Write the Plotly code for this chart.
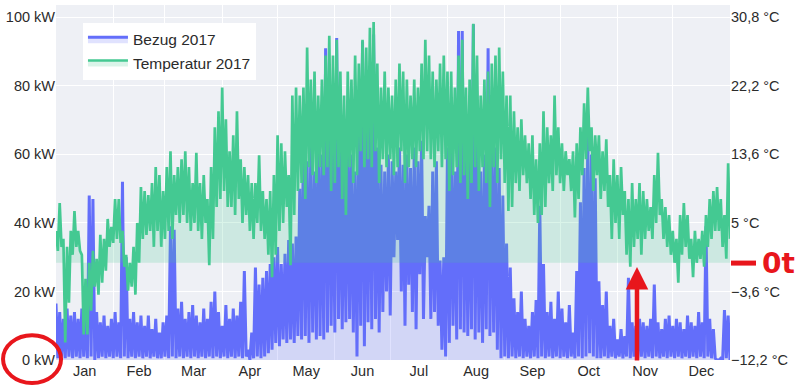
import numpy as np
import pandas as pd
import plotly.graph_objects as go

# ---- data (2-day blocks: daily high / low) ----
temp_hi = [4, 7.5, 3, 2, 4, 6.5, 4, 1, -2, 0,
           1.5, 0.5, 3.5, 3, 5.5, 4.5, 8, 8, 4, 1,
           0, 2, 5, 9.5, 9, 8.5, 10, 12, 11, 9,
           12, 14, 11, 12, 13, 14, 12, 10, 13.8, 10,
           11, 8, 12, 17, 19, 22, 18, 14, 16, 19,
           13, 12, 11, 10, 10, 13.5, 9, 8, 9, 11,
           16, 15, 14, 11, 21, 22, 21, 22, 27, 23,
           24, 21, 23, 26, 28.5, 26, 28, 24, 21, 24,
           23, 26, 25, 28, 27, 29.5, 30.2, 25, 22, 24,
           22, 21, 23, 25, 24, 23, 21, 23, 22, 25,
           28, 26, 24, 23, 25, 26, 24, 24, 22, 26,
           28, 22, 23, 30, 26, 21, 23, 24, 25, 26,
           27, 24, 21, 21, 19, 17, 18, 16, 15, 16,
           13, 15, 19, 17, 16, 21, 17, 15, 14, 13,
           14, 15, 17, 20, 22, 17, 16, 16, 14, 15.5,
           11, 13, 11, 12, 9, 8, 10, 8, 10, 9,
           8, 7, 11, 13.8, 8, 7, 6, 4, 3, 6,
           7.5, 6, 3, 4, 3, 4, 6, 8, 9, 9.5,
           8, 6, 12.5]
temp_lo = [1.5, 2, -10, -5, 1, 2, 1.5, -9, -9, -6,
           -3, -4, -2.5, -1, 2, 2.5, 3, 2.5, -0.5, -3.5,
           -3, -4, 0, 3, 3.5, 4, 2, 4, 2, 3,
           4, 3, 6, 5, 6, 5, 4, 5, 4, 3,
           5, -0.3, 3, 7, 8, 9, 7, 7, 6, 8,
           5, 6, 4, 3, 5, 4, 3, 1, -1.8, 1,
           4, 5, 7, -0.3, 6, 9, 10, 8, 12, 11,
           10, 12, 11, 12, 9, 10, 12, 8, 6, 12,
           10, 11, 14, 12, 13, 12, 14, 10, 13, 12,
           13, 11, 12, 14, 10, 12, 13, 12, 14, 13,
           14, 13, 12, 14, 12, 13, 9, 11, 12, 10,
           11, 8, 10, 12, 9, 12, 10, 7, 12, 10,
           13, 10, 6.5, 7, 10, 9, 11, 10, 8, 6,
           5, 6, 7, 10, 9, 11, 10, 9, 11, 9,
           5.7, 8, 11, 13, 14, 9, 11, 8, 9, 7,
           3, 5, 3, 6, 1, -0.5, 2, 3, 1, 3,
           4, 3, 5, 6, 3, 2, 1, 0, -2.5, 1,
           2, 0.5, -1.8, 0, 0.5, -0.5, 2, 3, 4, 4,
           2, 0.5, 3]
bezug_hi = [16.5, 14, 12, 15, 13, 14, 12, 15, 13, 48,
            47, 14, 11, 13, 10, 12, 14, 11, 52, 30,
            12, 14, 11, 13, 10, 13, 9, 12, 8, 11,
            13, 39, 38, 15, 17, 12, 14, 16, 13, 11,
            15, 12, 17, 20, 14, 10, 16, 12, 15, 13,
            17, 26, 3, 8, 27, 22, 24, 26, 28, 30,
            33, 28, 31, 35, 34, 36, 50, 66, 58, 64,
            55, 67, 60, 91, 80, 62, 94, 65, 58, 70,
            60, 55, 68, 93, 72, 80, 95, 62, 57, 55,
            60, 58, 55, 62, 57, 60, 56, 62, 58, 64,
            42, 45, 55, 58, 29, 30, 62, 64, 55, 96,
            96, 62, 58, 98, 70, 55, 60, 91, 66, 62,
            56, 48, 34, 27, 18, 14, 20, 12, 10, 14,
            17.5, 45, 28, 14, 17, 12, 20, 15, 11, 16,
            8, 26, 46, 56, 66, 60, 53, 23, 16, 20,
            10, 12, 6, 9, 7, 24, 11, 10, 12, 11,
            10, 12, 22, 11, 9, 12, 13, 10, 12, 11,
            9, 13, 11, 10, 14, 11, 39, 12, 9, 0,
            0.5, 14.6, 13]
bezug_lo = [0.5, 1, 0.5, 1, 0.5, 1, 0.5, 1, 0.5, 1,
            0, 0.5, 1, 0.5, 1, 0.5, 1, 0.5, 1, 0.5,
            1, 0.5, 1, 0.5, 1, 0.5, 1, 0.5, 0.5, 1,
            0.5, 1, 0.5, 1, 0.5, 1, 0.5, 1, 0.5, 1,
            0.5, 1, 0.5, 1, 0.5, 1, 0.5, 1, 0.5, 1,
            0.5, 1, 0, 0.5, 1, 0.5, 1, 2, 3, 5,
            4, 6, 5, 6, 5, 7, 6, 7, 5, 8,
            6, 7, 6, 8, 10, 8, 12, 9, 11, 12,
            8, 1, 10, 4, 11, 9, 12, 8, 14, 20,
            13, 30, 35, 20, 10, 22, 14, 9, 25, 12,
            30, 12, 14, 10, 3, 1, 5, 10, 6, 9,
            8, 7, 9, 6, 8, 5, 9, 7, 8, 3,
            0.5, 1, 0.5, 1, 0.5, 1, 0.5, 1, 0.5, 1,
            0.5, 1, 0.5, 1, 0.5, 1, 0.5, 1, 0.5, 1,
            0.5, 1, 0.5, 1, 2, 1, 0.5, 0.5, 1, 0.5,
            1, 0.5, 1, 0.5, 1, 0.5, 1, 0.5, 1, 0.5,
            1, 0.5, 1, 0.5, 1, 0.5, 1, 0.5, 1, 0.5,
            1, 0.5, 1, 0.5, 1, 0.5, 1, 0.5, 0.5, 0,
            0, 0.5, 0]

kw_ticks = [0, 20, 40, 60, 80, 100]
kw_text = ["0 kW", "20 kW", "40 kW", "60 kW", "80 kW", "100 kW"]
temp_ticks = [-12.2, -3.6, 5, 13.6, 22.2, 30.8]
temp_text = ["\u221212,2 °C", "\u22123,6 °C", "5 °C", "13,6 °C", "22,2 °C", "30,8 °C"]


def interleave(hi, lo):
    out = []
    for h, l in zip(hi, lo):
        out.extend([h, l])
    return out


bezug = interleave(bezug_hi, bezug_lo)
temp = interleave(temp_hi, temp_lo)
x = pd.Timestamp("2017-01-01") + pd.to_timedelta(np.arange(len(bezug)), unit="D")

KW_MAX = 103.6
T_MIN, T_MAX = -12.2, -12.2 + KW_MAX * 0.43

BLUE = "#636efa"
GREEN = "#44c992"
RED = "#e8161c"
FONT = dict(family="Liberation Sans, Arial, sans-serif", size=14.5, color="#2b2b2b")

fig = go.Figure()
fig.add_trace(go.Scatter(x=x, y=bezug, name="Bezug 2017", mode="lines",
                         line=dict(color=BLUE, width=3), fill="tozeroy",
                         fillcolor="rgba(99,110,250,0.2)"))
fig.add_trace(go.Scatter(x=x, y=temp, name="Temperatur 2017", mode="lines", yaxis="y2",
                         line=dict(color=GREEN, width=2.7), fill="tozeroy",
                         fillcolor="rgba(68,201,146,0.2)"))

fig.update_layout(
    width=804, height=387,
    margin=dict(l=56, r=74, t=5, b=27, autoexpand=False),
    paper_bgcolor="white", plot_bgcolor="#eef0f5",
    font=FONT,
    showlegend=True,
    legend=dict(x=0.04, y=0.95, xanchor="left", yanchor="top", bgcolor="white",
                font=dict(size=15.5), tracegroupgap=6, itemwidth=40),
    xaxis=dict(type="date", range=["2017-01-01", "2018-01-01"], dtick="M1",
               tickformat="%b", ticklabelmode="period", showgrid=True,
               gridcolor="white", gridwidth=1, zeroline=False, showline=False,
               automargin=False),
    yaxis=dict(range=[0, KW_MAX], tickvals=kw_ticks, ticktext=kw_text,
               showgrid=True, gridcolor="white", gridwidth=1, zeroline=False,
               automargin=False),
    yaxis2=dict(range=[T_MIN, T_MAX], tickvals=temp_ticks, ticktext=temp_text,
                overlaying="y", side="right", showgrid=False, zeroline=False,
                automargin=False),
)

# red hand-drawn marks
fig.add_shape(type="circle", xref="paper", yref="paper",
              x0=-0.0786, x1=0.0075, y0=-0.065, y1=0.07,
              line=dict(color=RED, width=4), layer="above")
fig.add_shape(type="line", xref="paper", yref="paper",
              x0=1.0015, x1=1.0386, y0=0.273, y1=0.273,
              line=dict(color=RED, width=5), layer="above")
fig.add_annotation(xref="paper", yref="paper", x=1.072, y=0.273, text="<b>0t</b>",
                   showarrow=False, font=dict(family="DejaVu Sans", size=28, color=RED),
                   xanchor="center", yanchor="middle")
fig.add_annotation(xref="paper", yref="paper", x=0.862, y=0.262, text="",
                   showarrow=True, ax=0, ay=95, arrowhead=2, arrowsize=1,
                   arrowwidth=4.5, arrowcolor=RED, standoff=0)

fig.write_html("out.html", config={"displayModeBar": False},
               post_script="document.body.style.margin='0px';")
